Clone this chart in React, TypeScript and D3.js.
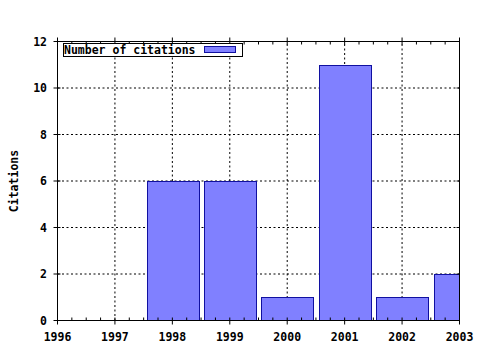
import React from "react";
import * as d3 from "d3";

const years = [1996, 1997, 1998, 1999, 2000, 2001, 2002, 2003];
const citations = [0, 0, 6, 6, 1, 11, 1, 2];
const yTicks = [0, 2, 4, 6, 8, 10, 12];
const seriesName = "Number of citations";
const yTitle = "Citations";

const W = 480, H = 350;
const L = 57.5, R = 459.5, T = 41.5, B = 320.5;
const FONT = "'DejaVu Sans Mono', monospace";

export default function App() {
  const x = d3.scaleLinear().domain([1996, 2003]).range([L, R]);
  const y = d3.scaleLinear().domain([0, 12]).range([B, T]);
  const bw = (x(1997) - x(1996)) * 0.9;
  const minor: number[] = [];
  for (let v = 1996; v <= 2003.001; v += 0.25) minor.push(v);

  return (
    <svg width={W} height={H} style={{ position: "fixed", left: 0, top: 0, background: "#fff" }}
      fontFamily={FONT} fontWeight="bold" fontSize={11.5}>
      <defs>
        <clipPath id="plot">
          <rect x={L} y={T} width={R - L} height={B - T} />
        </clipPath>
      </defs>
      <rect width={W} height={H} fill="#fff" />
      {/* grid */}
      {years.slice(1, -1).map((v) => (
        <line key={"gx" + v} x1={x(v)} x2={x(v)} y1={B} y2={T} stroke="#000" strokeWidth={1} strokeDasharray="2,2.5" />
      ))}
      {yTicks.slice(1, -1).map((v) => (
        <line key={"gy" + v} x1={L} x2={R} y1={y(v)} y2={y(v)} stroke="#000" strokeWidth={1} strokeDasharray="2,2.5" />
      ))}
      {/* bars */}
      <g clipPath="url(#plot)">
        {years.map((yr, i) =>
          citations[i] > 0 ? (
            <rect key={"b" + yr} x={Math.round(x(yr) - bw / 2) + 0.5} y={Math.round(y(citations[i])) + 0.5}
              width={Math.round(bw)} height={Math.round(y(0) - y(citations[i]))}
              fill="#8080ff" stroke="#1010a0" strokeWidth={1} />
          ) : null
        )}
      </g>
      {/* frame */}
      <rect x={L} y={T} width={R - L} height={B - T} fill="none" stroke="#000" strokeWidth={1} />
      {/* x ticks */}
      {minor.map((v, i) => {
        const major = i % 4 === 0;
        return (
          <g key={"xt" + i}>
            <line x1={x(v)} x2={x(v)} y1={B - 3} y2={major ? B + 4 : B} stroke="#000" />
            <line x1={x(v)} x2={x(v)} y1={T + 3} y2={major ? T - 4 : T} stroke="#000" />
          </g>
        );
      })}
      {years.map((v) => (
        <text key={"xl" + v} x={x(v)} y={341} textAnchor="middle" fill="#000">{v}</text>
      ))}
      {/* y ticks */}
      {yTicks.map((v) => (
        <g key={"yt" + v}>
          <line x1={L - 4} x2={L + 3} y1={y(v)} y2={y(v)} stroke="#000" />
          <line x1={R - 3} x2={R} y1={y(v)} y2={y(v)} stroke="#000" />
          <text x={47} y={y(v) + 4} textAnchor="end" fill="#000">{v}</text>
        </g>
      ))}
      <text transform={`translate(18,${(T + B) / 2}) rotate(-90)`} textAnchor="middle" fill="#000">{yTitle}</text>
      {/* legend */}
      <rect x={63.5} y={43.5} width={179} height={13} fill="#fff" stroke="#000" />
      <text x={64} y={54} fill="#000">{seriesName}</text>
      <rect x={204.5} y={46.5} width={31} height={6} fill="#8080ff" stroke="#1010a0" />
    </svg>
  );
}
